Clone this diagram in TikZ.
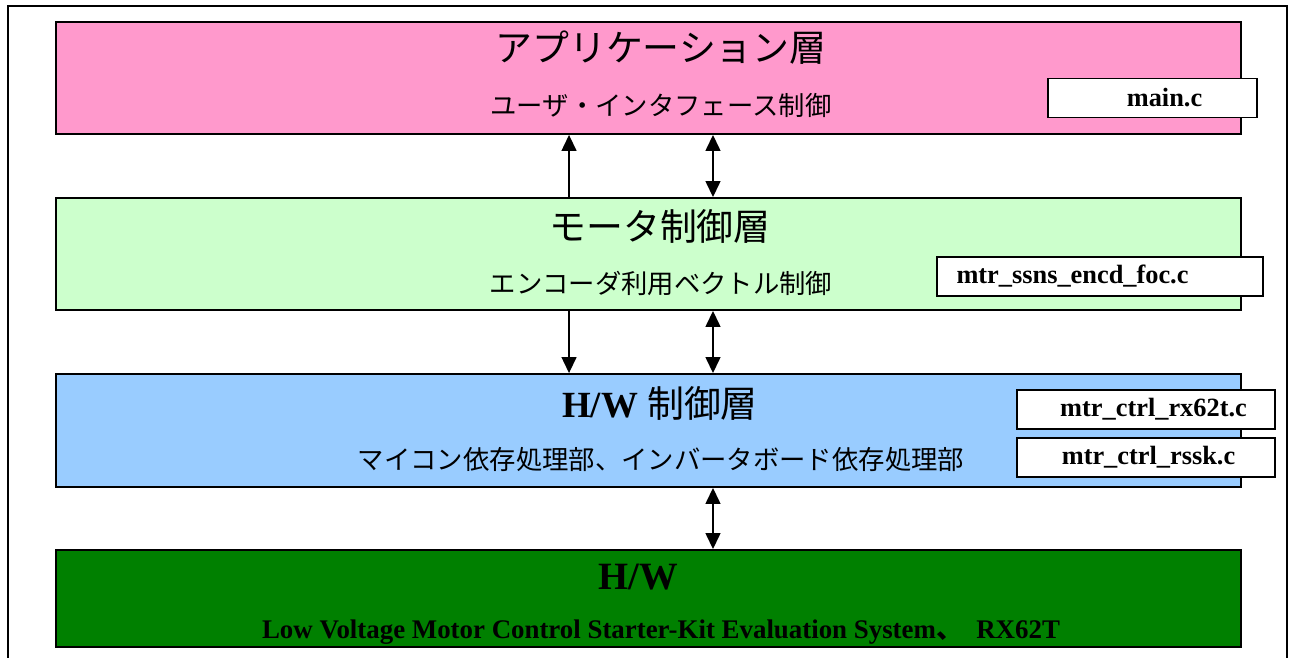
\documentclass[tikz,border=0pt]{standalone}
\usepackage{fontspec}
\setmainfont{Liberation Serif}
\newfontfamily\jp{Noto Sans CJK JP}
\usetikzlibrary{arrows.meta}
\definecolor{apppink}{RGB}{255, 153, 204}
\definecolor{motorgreen}{RGB}{204, 255, 204}
\definecolor{hwblue}{RGB}{153, 204, 255}
\definecolor{hwgreen}{RGB}{0, 128, 0}
\tikzset{%
    layerbox/.style={draw, line width=1.1pt, minimum width=23.7cm, inner sep=0pt},
    srcfile/.style={draw, fill=white, line width=1.1pt, inner sep=0pt,
        minimum height=0.78cm, font=\fontsize{15}{18}\selectfont\bfseries},
    title/.style={font=\fontsize{21}{25}\selectfont\jp},
    subtitle/.style={font=\fontsize{15}{18}\selectfont\jp},
    link/.style={line width=0.8pt, -{Triangle[width=0.3cm, length=0.32cm]}},
    biglink/.style={line width=0.8pt,
        {Triangle[width=0.3cm, length=0.32cm]}-{Triangle[width=0.3cm, length=0.32cm]}}
}

\begin{document}
\begin{tikzpicture}[x=0.02cm, y=-0.02cm]

    \useasboundingbox (0, 0) rectangle (1290, 658);

    % Frame
    \draw[line width=1.1pt] (8, 658) -- (8, 6) -- (1287, 6) -- (1287, 658);

    % Layers
    \node[layerbox, fill=apppink, minimum height=2.24cm] (app) at (648.5, 78) {};
    \node[layerbox, fill=motorgreen, minimum height=2.24cm] (motor) at (648.5, 254) {};
    \node[layerbox, fill=hwblue, minimum height=2.26cm] (hwctl) at (648.5, 430.5) {};
    \node[layerbox, fill=hwgreen, minimum height=1.94cm] (hw) at (648.5, 598.5) {};

    % Layer texts
    \node[title] (apptitle) at (661, 48) {アプリケーション層};
    \node[subtitle] (appsub) at (661, 105) {ユーザ・インタフェース制御};
    \node[title] (motortitle) at (660, 226) {モータ制御層};
    \node[subtitle] (motorsub) at (661, 283) {エンコーダ利用ベクトル制御};
    \node[font=\fontsize{21}{25}\selectfont] (hwctltitle) at (660, 403)
        {\textbf{H/W} {\jp 制御層}};
    \node[subtitle] (hwctlsub) at (661, 460)
        {マイコン依存処理部、インバータボード依存処理部};
    \node[font=\fontsize{22}{26}\selectfont\bfseries] (hwtitle) at (638, 577) {H/W};
    \node[font=\fontsize{15.3}{18}\selectfont\bfseries] (hwsub) at (661, 632)
        {Low Voltage Motor Control Starter-Kit Evaluation System{\jp 、}\ \ RX62T};

    % Source files
    \node[srcfile, minimum width=4.18cm] (mainc) at (1152.5, 98)
        {\hspace{0.48cm}main.c};
    \node[srcfile, minimum width=6.52cm] (encdfoc) at (1100, 276.5)
        {mtr\_ssns\_encd\_foc.c\hspace*{1.1cm}};
    \node[srcfile, minimum width=5.16cm] (rx62t) at (1146, 409.5)
        {\hspace{0.3cm}mtr\_ctrl\_rx62t.c};
    \node[srcfile, minimum width=5.16cm] (rssk) at (1146, 457.5)
        {\hspace{0.1cm}mtr\_ctrl\_rssk.c};

    % Connecting layers
    \draw[link] ([xshift=-1.59cm] motor.north) -- ([xshift=-1.59cm] app.south);
    \draw[biglink] ([xshift=1.29cm] motor.north) -- ([xshift=1.29cm] app.south);
    \draw[link] ([xshift=-1.59cm] motor.south) -- ([xshift=-1.59cm] hwctl.north);
    \draw[biglink] ([xshift=1.29cm] motor.south) -- ([xshift=1.29cm] hwctl.north);
    \draw[biglink] ([xshift=1.29cm] hwctl.south) -- ([xshift=1.29cm] hw.north);

\end{tikzpicture}
\end{document}
